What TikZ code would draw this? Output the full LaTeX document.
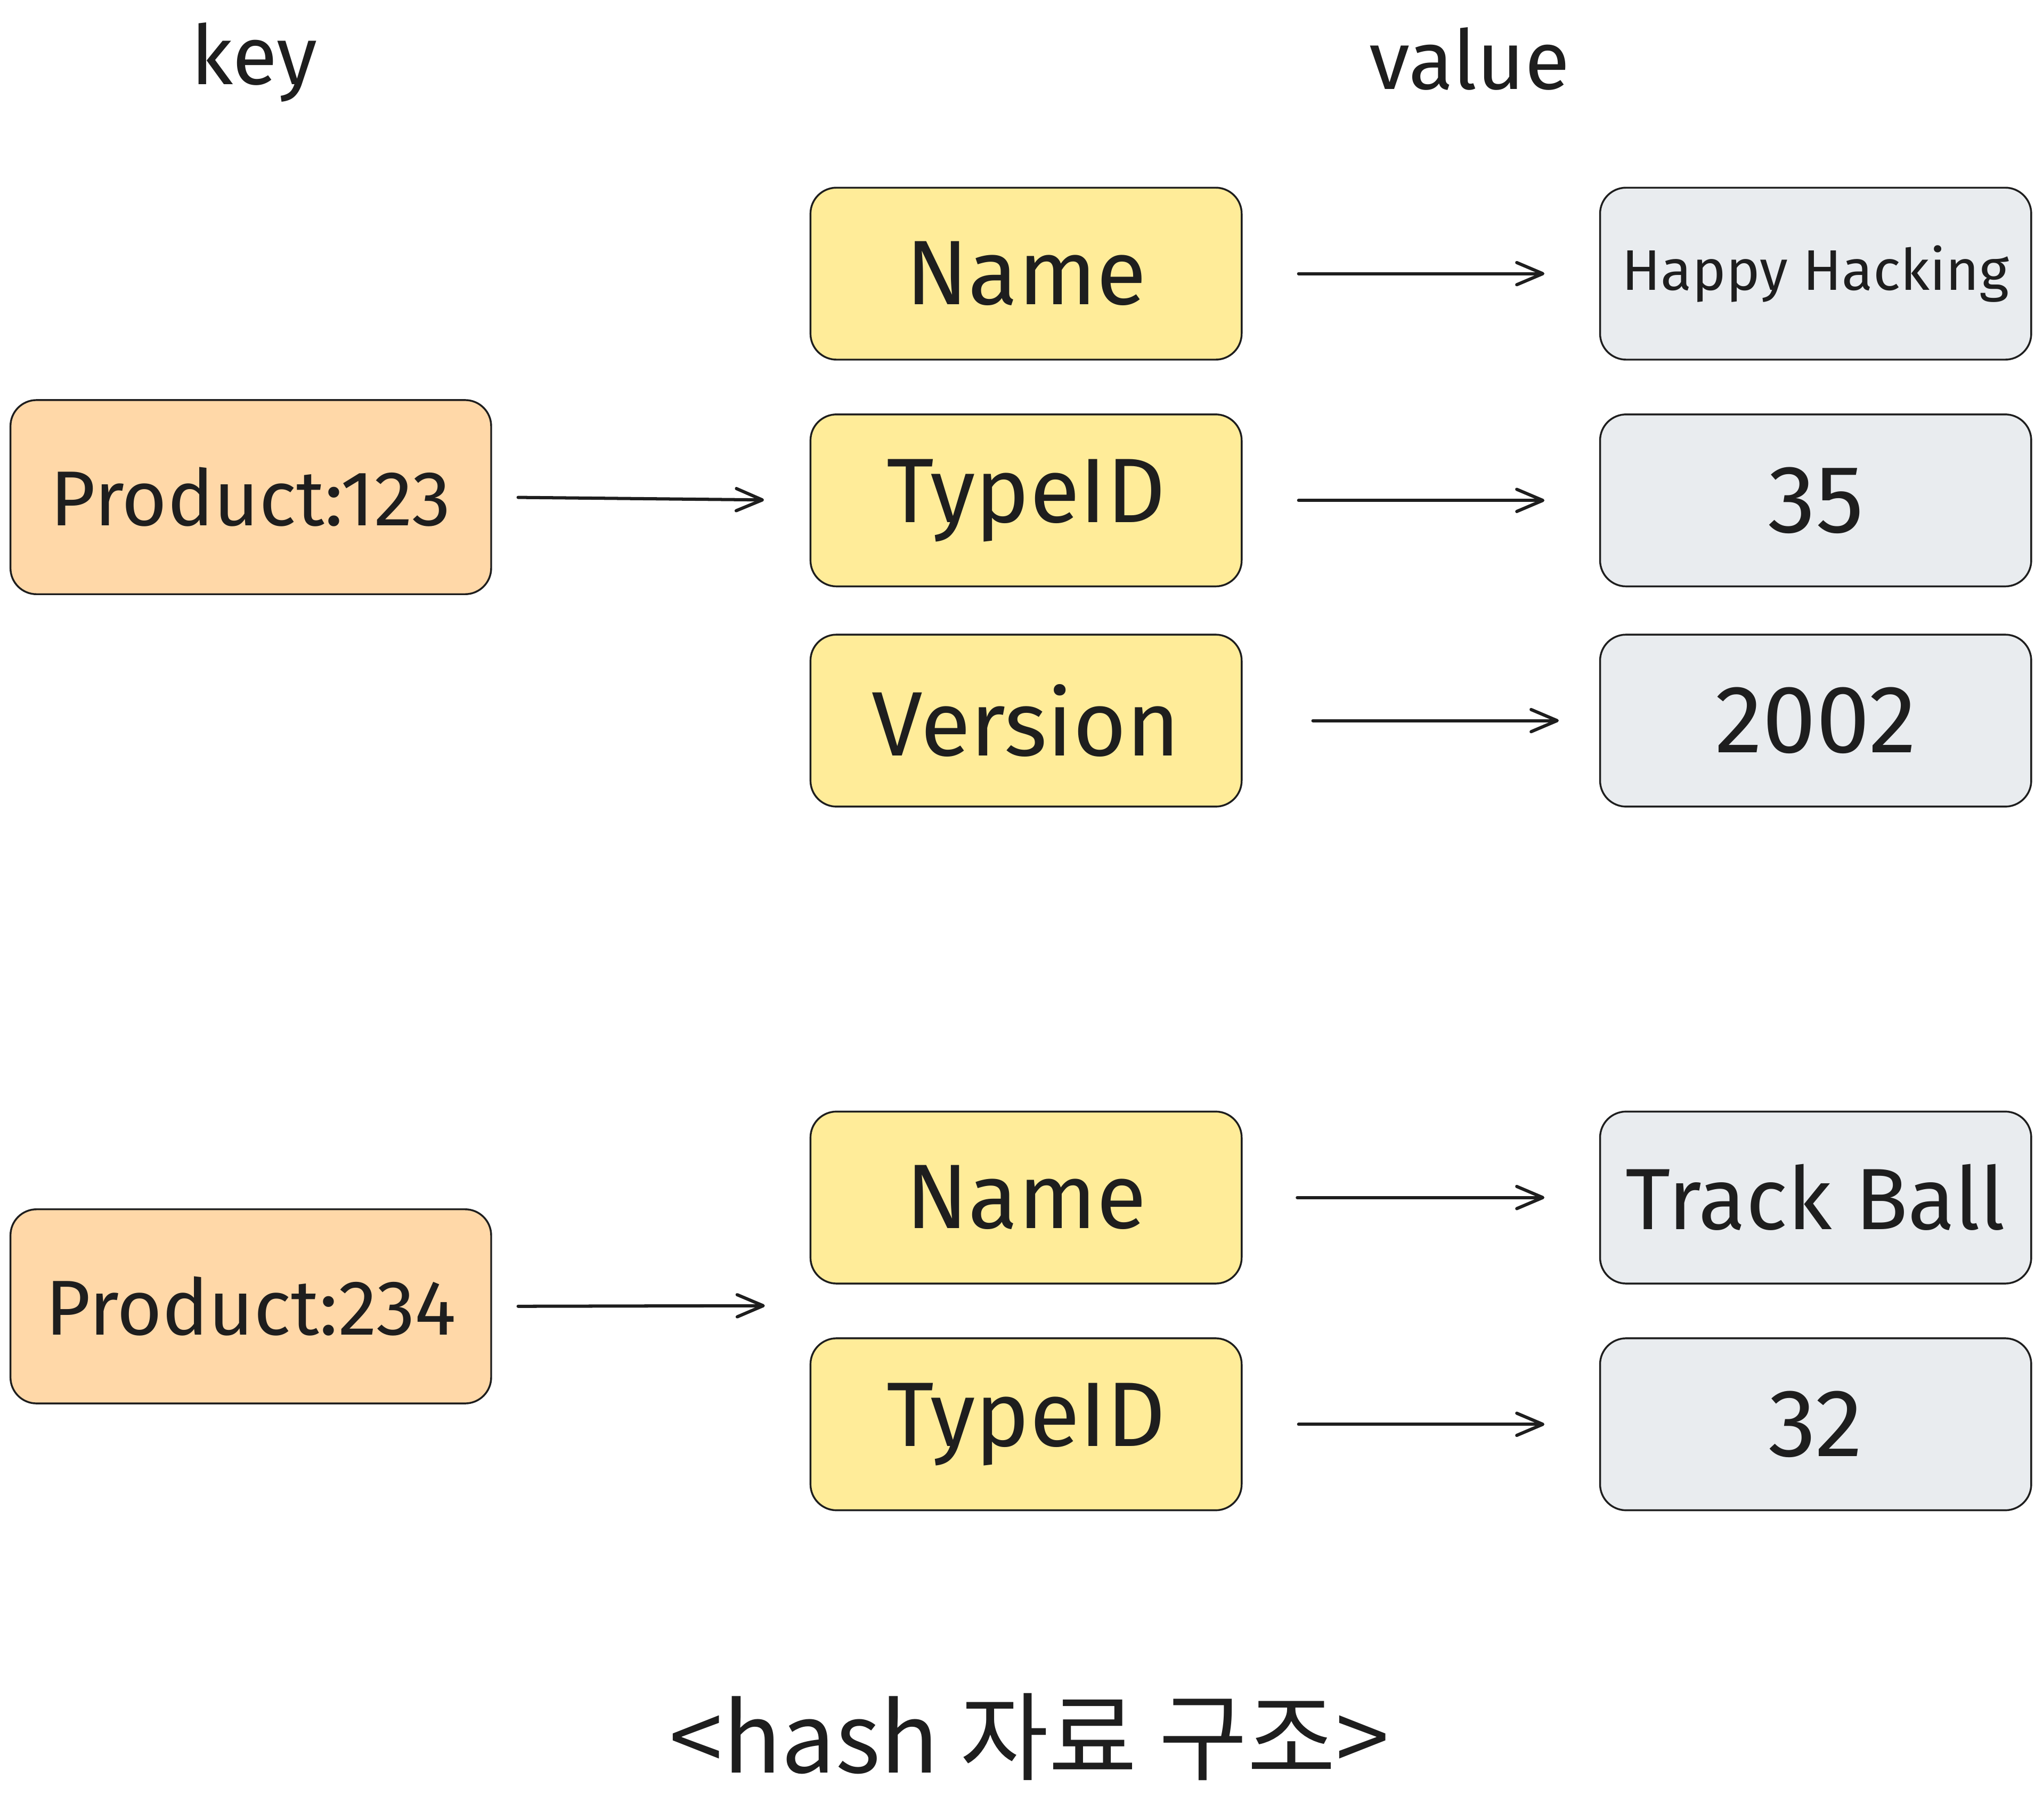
\documentclass[tikz,border=0pt]{standalone}
\usepackage{fontspec}
\setmainfont{Fira Sans}
\newfontfamily\krfont{Noto Sans CJK KR}
\usetikzlibrary{arrows.meta}
\definecolor{ink}{HTML}{1E1E1E}
\definecolor{keyfill}{HTML}{FFD8A8}
\definecolor{fieldfill}{HTML}{FFEC99}
\definecolor{valfill}{HTML}{E9ECEF}
\begin{document}
\begin{tikzpicture}[x=0.02cm,y=-0.02cm,
keybox/.style={draw=ink,fill=keyfill,rounded corners=0.4cm,line width=0.8pt,
minimum width=7.38cm,minimum height=2.98cm,inner sep=0pt,text=ink,
font=\fontsize{34}{40}\selectfont},
fieldbox/.style={draw=ink,fill=fieldfill,rounded corners=0.4cm,line width=0.8pt,
minimum width=6.62cm,minimum height=2.64cm,inner sep=0pt,text=ink,
font=\fontsize{40}{46}\selectfont},
valbox/.style={draw=ink,fill=valfill,rounded corners=0.4cm,line width=0.8pt,
minimum width=6.62cm,minimum height=2.64cm,inner sep=0pt,text=ink,
font=\fontsize{42}{48}\selectfont},
head/.style={text=ink,font=\fontsize{36}{42}\selectfont},
arr/.style={draw=ink,line width=1.4pt,line cap=round,
-{Straight Barb[round,length=0.4cm,width=0.34cm]}}]
\useasboundingbox (0,0) rectangle (1568,1396.3);
\node[head] (key) at (195,48) {key};
\node[head] (value) at (1128,45) {value};
\node[keybox] (prod1) at (192.5,381.5) {Product:123};
\node[fieldbox] (name1) at (787.5,210) {Name};
\node[fieldbox] (type1) at (787.5,384) {TypeID};
\node[fieldbox] (ver1) at (787.5,553) {Version};
\node[valbox,font=\fontsize{25}{30}\selectfont] (happy) at (1393.5,210) {Happy Hacking};
\node[valbox] (v35) at (1393.5,384) {35};
\node[valbox] (v2002) at (1393.5,553) {2002};
\draw[arr,shorten <=0.4cm,shorten >=0.7cm] (prod1.east) -- (type1.west);
\draw[arr,shorten <=0.86cm,shorten >=0.84cm] (name1.east) -- (happy.west);
\draw[arr,shorten <=0.86cm,shorten >=0.84cm] (type1.east) -- (v35.west);
\draw[arr,shorten <=1.08cm,shorten >=0.62cm] (ver1.east) -- (v2002.west);
\node[keybox] (prod2) at (192.5,1002.5) {Product:234};
\node[fieldbox] (name2) at (787.5,919) {Name};
\node[fieldbox] (type2) at (787.5,1093) {TypeID};
\node[valbox,font=\fontsize{38}{44}\selectfont] (track) at (1393.5,919) {Track Ball};
\node[valbox] (v32) at (1393.5,1093) {32};
\coordinate (tip2) at (587,1002);
\draw[arr,shorten <=0.4cm] (prod2.east) -- (tip2);
\draw[arr,shorten <=0.84cm,shorten >=0.84cm] (name2.east) -- (track.west);
\draw[arr,shorten <=0.86cm,shorten >=0.84cm] (type2.east) -- (v32.west);
\node[text=ink,font=\krfont\fontsize{42}{48}\selectfont] (title) at (790,1333) {<hash 자료 구조>};
\end{tikzpicture}
\end{document}
